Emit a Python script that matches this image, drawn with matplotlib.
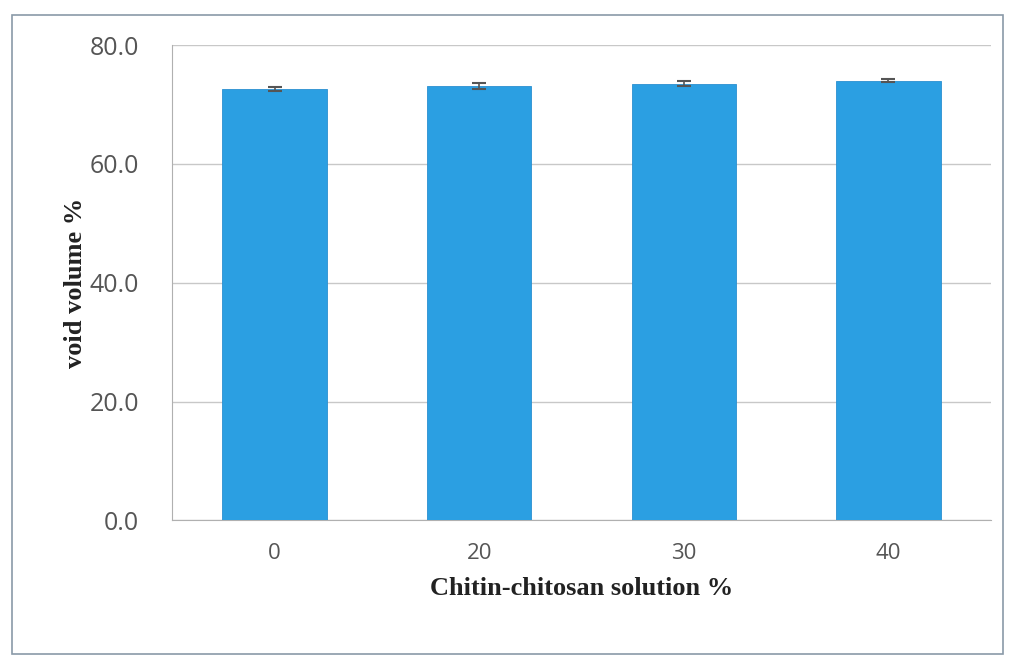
import matplotlib.pyplot as plt
from matplotlib.patches import Rectangle

categories = ["0", "20", "30", "40"]
void_volume = [72.6, 73.1, 73.5, 74.0]
errors = [0.4, 0.5, 0.4, 0.2]
y_ticks = [0, 20, 40, 60, 80]

fig = plt.figure(figsize=(10.13, 6.62), dpi=100)
ax = fig.add_axes([0.170, 0.214, 0.808, 0.718])

x = range(len(categories))
ax.bar(x, void_volume, width=0.51, color="#2b9fe2", edgecolor="#2a8fd0",
       linewidth=0.6, yerr=errors, capsize=5,
       error_kw=dict(ecolor="#555555", elinewidth=1.2, capthick=1.5), zorder=3)

ax.set_ylim(0, 80)
ax.set_xlim(-0.5, len(categories) - 0.5)
ax.set_yticks(y_ticks)
ax.set_yticklabels([f"{v:.1f}" for v in y_ticks], fontsize=18, color="#555555",
                   fontfamily="Open Sans")
ax.set_xticks(list(x))
ax.set_xticklabels(categories, fontsize=16, color="#555555", fontfamily="Open Sans")
ax.tick_params(length=0)
ax.tick_params(axis="y", pad=24)
ax.tick_params(axis="x", pad=16)
ax.yaxis.grid(True, color="#c8c8c8", linewidth=1, zorder=0)
for s in ["top", "right"]:
    ax.spines[s].set_visible(False)
for s in ["left", "bottom"]:
    ax.spines[s].set_color("#b0b0b0")

ax.set_xlabel("Chitin-chitosan solution %", fontsize=19, fontweight="bold",
              fontfamily="Liberation Serif", color="#222222", labelpad=10)
ax.set_ylabel("void volume %", fontsize=19, fontweight="bold",
              fontfamily="Liberation Serif", color="#222222", labelpad=2)

fig.patches.append(Rectangle((0.012, 0.012), 0.978, 0.965, transform=fig.transFigure,
                             fill=False, edgecolor="#8a9aa8", linewidth=1.2))

fig.savefig("out.png", dpi=100)
